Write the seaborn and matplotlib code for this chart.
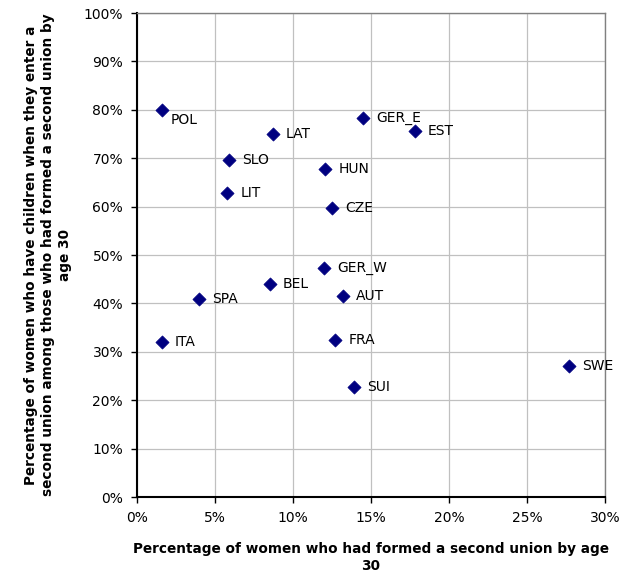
import matplotlib
matplotlib.use("Agg")
import matplotlib.pyplot as plt
import seaborn as sns
import pandas as pd
from matplotlib.ticker import PercentFormatter, MultipleLocator

countries = ["POL", "LAT", "SLO", "LIT", "GER_E", "EST", "HUN", "CZE",
             "GER_W", "BEL", "AUT", "SPA", "ITA", "FRA", "SUI", "SWE"]
second_union = [1.6, 8.7, 5.9, 5.8, 14.5, 17.8, 12.05, 12.5,
                12.0, 8.5, 13.2, 4.0, 1.6, 12.7, 13.9, 27.7]
with_children = [80.0, 75.0, 69.6, 62.8, 78.3, 75.6, 67.8, 59.7,
                 47.3, 44.0, 41.5, 40.9, 32.0, 32.4, 22.7, 27.1]

df = pd.DataFrame({"country": countries, "x": second_union, "y": with_children})

sns.set_style("white", {"text.color": "black", "axes.labelcolor": "black",
                        "xtick.color": "black", "ytick.color": "black"})
plt.rcParams["font.family"] = ["DejaVu Sans"]

fig = plt.figure(figsize=(6.37, 5.78), dpi=100)
ax = fig.add_axes([0.215, 0.140, 0.735, 0.8375])

sns.scatterplot(data=df, x="x", y="y", marker="D", s=45, color="#000080",
                edgecolor="#000080", linewidth=0.5, ax=ax, zorder=3, legend=False)

for _, r in df.iterrows():
    offset = (6, -7.5) if r["country"] == "POL" else (9.5, 0)
    ax.annotate(r["country"], (r["x"], r["y"]), xytext=offset,
                textcoords="offset points", ha="left", va="center",
                fontsize=10, color="black", zorder=4)

ax.set_xlim(0, 30)
ax.set_ylim(0, 100)
ax.xaxis.set_major_locator(MultipleLocator(5))
ax.yaxis.set_major_locator(MultipleLocator(10))
ax.xaxis.set_major_formatter(PercentFormatter(decimals=0))
ax.yaxis.set_major_formatter(PercentFormatter(decimals=0))
ax.grid(True, color="#c0c0c0", linewidth=0.9)
ax.set_axisbelow(True)

for s in ["left", "bottom"]:
    ax.spines[s].set_color("black")
    ax.spines[s].set_linewidth(1.5)
for s in ["top", "right"]:
    ax.spines[s].set_color("#808080")
    ax.spines[s].set_linewidth(1.0)

ax.tick_params(axis="both", which="major", direction="out", length=4,
               width=1, color="black", labelcolor="black", labelsize=10,
               pad=6, left=True, bottom=True)

ax.set_xlabel("Percentage of women who had formed a second union by age\n30",
              fontsize=9.8, fontweight="bold", labelpad=12, linespacing=1.3,
              color="black")
ax.set_ylabel("Percentage of women who have children when they enter a\n"
              "second union among those who had formed a second union by\n"
              "age 30", fontsize=9.8, fontweight="bold", labelpad=8,
              linespacing=1.3, color="black")

fig.savefig("out.png", dpi=100)
